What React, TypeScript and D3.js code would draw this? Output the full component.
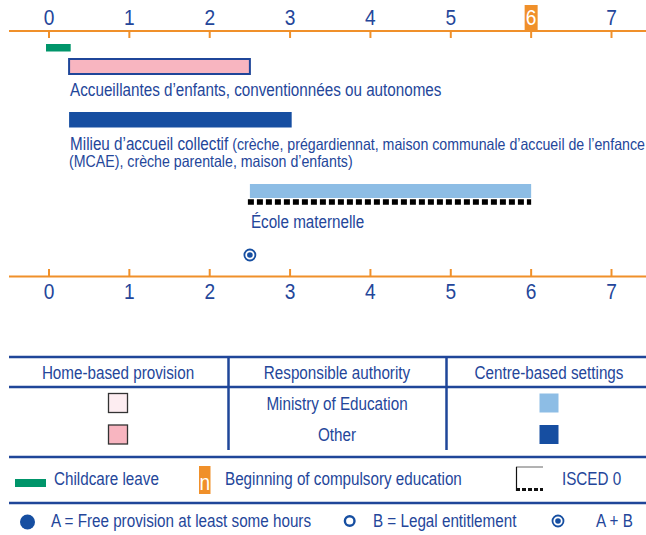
import React from "react";
import * as d3 from "d3";

// ---- data ----
const years = [0, 1, 2, 3, 4, 5, 6, 7];
const compulsoryAge = 6;
const childcareLeave = [0, 0.27];
const settingNames = [
  "Accueillantes d’enfants, conventionnées ou autonomes",
  "Milieu d’accueil collectif",
  "École maternelle",
];
const settingNotes = [
  "",
  " (crèche, prégardiennat, maison communale d’accueil de l’enfance",
  "",
];
const settingNotes2 = ["", "(MCAE), crèche parentale, maison d’enfants)", ""];
const settingStart = [0.25, 0.25, 2.5];
const settingEnd = [2.5, 3.02, 6];
const settingKind = ["home-other", "centre-other", "centre-edu"];
const isced0 = [true, false, true];
const entitlementAge = 2.5; // A + B

const tableHeaders = ["Home-based provision", "Responsible authority", "Centre-based settings"];
const authorities = ["Ministry of Education", "Other"];
const legendRow1 = ["Childcare leave", "Beginning of compulsory education", "ISCED 0"];
const legendRow2 = ["A = Free provision at least some hours", "B = Legal entitlement", "A + B"];

// ---- styles ----
const BLUE_TXT = "#24469a";
const LINE = "#1f4699";
const ORANGE = "#f0902a";
const GREEN = "#00956a";
const DARK = "#164ea1";
const LIGHT = "#8dbde5";
const PINK = "#f8b5c0";
const PALE = "#fdedf1";
const FONT = "'Liberation Sans', Arial, sans-serif";
const SX = 0.87;

const fill: Record<string, string> = {
  "home-other": PINK,
  "home-edu": PALE,
  "centre-other": DARK,
  "centre-edu": LIGHT,
};

function T({ x, y, size = 17.5, anchor = "start", color = BLUE_TXT, children }: any) {
  return (
    <text
      transform={`translate(${x},${y}) scale(${SX},1)`}
      fontFamily={FONT}
      fontSize={size}
      textAnchor={anchor}
      fill={color}
    >
      {children}
    </text>
  );
}

export default function App() {
  const W = 646, H = 535;
  const x = d3.scaleLinear().domain([0, 7]).range([49, 611.5]);
  const topAxisY = 31, botAxisY = 276.5;
  const barY = [59, 112, 184];
  const barH = [15, 15.5, 14];
  const labelY = [96, 149.5, 228];

  const tbl = { left: 9, right: 646, top: 357, head: 387, bottom: 457, leg: 503 };
  const colX = [228.5, 446.5];
  const colC = [118, 337, 549];

  return (
    <svg width={W} height={H} style={{ position: "fixed", left: 0, top: 0 }}>
      <rect width={W} height={H} fill="#fff" />
      {/* top axis */}
      <line x1={9} x2={W} y1={topAxisY} y2={topAxisY} stroke={ORANGE} strokeWidth={2} />
      {years.map((v) => (
        <g key={"t" + v}>
          <line x1={x(v)} x2={x(v)} y1={topAxisY} y2={topAxisY + 7} stroke={ORANGE} strokeWidth={2} />
          {v === compulsoryAge && (
            <rect x={x(v) - 6.5} y={5} width={13} height={topAxisY - 5} fill={ORANGE} />
          )}
          <T x={x(v)} y={25} size={22} anchor="middle" color={v === compulsoryAge ? "#fff" : BLUE_TXT}>
            {v}
          </T>
        </g>
      ))}
      {/* childcare leave */}
      <rect x={x(childcareLeave[0]) - 3} y={44} width={x(childcareLeave[1]) - x(childcareLeave[0]) + 3} height={7.5} fill={GREEN} />
      {/* settings */}
      {settingNames.map((name, i) => {
        const home = settingKind[i].startsWith("home");
        const x0 = x(settingStart[i]);
        const x1 = x(settingEnd[i]);
        return (
          <g key={name}>
            {home ? (
              <rect x={x0} y={barY[i]} width={x1 - x0} height={barH[i]} fill={fill[settingKind[i]]} stroke={LINE} strokeWidth={2} />
            ) : (
              <rect x={x0} y={barY[i]} width={x1 - x0} height={barH[i]} fill={fill[settingKind[i]]} />
            )}
            {isced0[i] && !home && (
              <line x1={x0 - 2} x2={x1} y1={barY[i] + barH[i] + 4} y2={barY[i] + barH[i] + 4} stroke="#000" strokeWidth={5.5} strokeDasharray="6 3" />
            )}
            <text
              transform={`translate(${x0 + 1},${labelY[i]}) scale(${SX},1)`}
              fontFamily={FONT}
              fontSize={17.5}
              fill={BLUE_TXT}
            >
              {name}
              {settingNotes[i] && <tspan fontSize={16.3}>{settingNotes[i]}</tspan>}
            </text>
            {settingNotes2[i] && (
              <T x={x0} y={labelY[i] + 17.5} size={16.3}>
                {settingNotes2[i]}
              </T>
            )}
          </g>
        );
      })}
      {/* A + B marker */}
      <circle cx={x(entitlementAge)} cy={255} r={5.5} fill="none" stroke={DARK} strokeWidth={1.8} />
      <circle cx={x(entitlementAge)} cy={255} r={2.8} fill={DARK} />
      {/* bottom axis */}
      <line x1={9} x2={W} y1={botAxisY} y2={botAxisY} stroke={ORANGE} strokeWidth={2} />
      {years.map((v) => (
        <g key={"b" + v}>
          <line x1={x(v)} x2={x(v)} y1={botAxisY - 7.5} y2={botAxisY} stroke={ORANGE} strokeWidth={2} />
          <T x={x(v)} y={299} size={22} anchor="middle">
            {v}
          </T>
        </g>
      ))}
      {/* table */}
      {[tbl.top, tbl.head, tbl.bottom, tbl.leg].map((yy, i) => (
        <line key={"h" + i} x1={tbl.left} x2={tbl.right} y1={yy} y2={yy} stroke={LINE} strokeWidth={2.5} />
      ))}
      {colX.map((cx, i) => (
        <line key={"v" + i} x1={cx} x2={cx} y1={tbl.top} y2={450} stroke={LINE} strokeWidth={2.5} />
      ))}
      {tableHeaders.map((h, i) => (
        <T key={h} x={colC[i]} y={378.5} anchor="middle">
          {h}
        </T>
      ))}
      {authorities.map((a, i) => {
        const cy = [403, 434.5][i];
        return (
          <g key={a}>
            <T x={colC[1]} y={[410, 440.7][i]} anchor="middle">
              {a}
            </T>
            <rect x={colC[0] - 9.5} y={cy - 9.5} width={19} height={19} fill={i === 0 ? fill["home-edu"] : fill["home-other"]} stroke="#333" strokeWidth={1.3} />
            <rect x={colC[2] - 9.5} y={cy - 9.5} width={19} height={19} fill={i === 0 ? fill["centre-edu"] : fill["centre-other"]} />
          </g>
        );
      })}
      {/* legend row 1 */}
      <rect x={15} y={479} width={31} height={8} fill={GREEN} />
      <T x={54} y={485}>{legendRow1[0]}</T>
      <rect x={199} y={466} width={11.5} height={28} fill={ORANGE} />
      <T x={204.7} y={490} size={22} anchor="middle" color="#fff">n</T>
      <T x={225} y={485}>{legendRow1[1]}</T>
      <line x1={516} x2={543} y1={467} y2={467} stroke="#666" strokeWidth={1} />
      <line x1={516.5} x2={516.5} y1={467} y2={491} stroke="#111" strokeWidth={1.2} />
      <line x1={516} x2={543} y1={489.5} y2={489.5} stroke="#111" strokeWidth={3} strokeDasharray="4 2" />
      <T x={562} y={485}>{legendRow1[2]}</T>
      {/* legend row 2 */}
      <circle cx={27.5} cy={522} r={7.5} fill={DARK} />
      <T x={51} y={527}>{legendRow2[0]}</T>
      <circle cx={349.7} cy={521} r={4.8} fill="none" stroke={DARK} strokeWidth={2.4} />
      <T x={373} y={527}>{legendRow2[1]}</T>
      <circle cx={558} cy={521} r={5.5} fill="none" stroke={DARK} strokeWidth={1.8} />
      <circle cx={558} cy={521} r={2.8} fill={DARK} />
      <T x={596} y={527}>{legendRow2[2]}</T>
    </svg>
  );
}
